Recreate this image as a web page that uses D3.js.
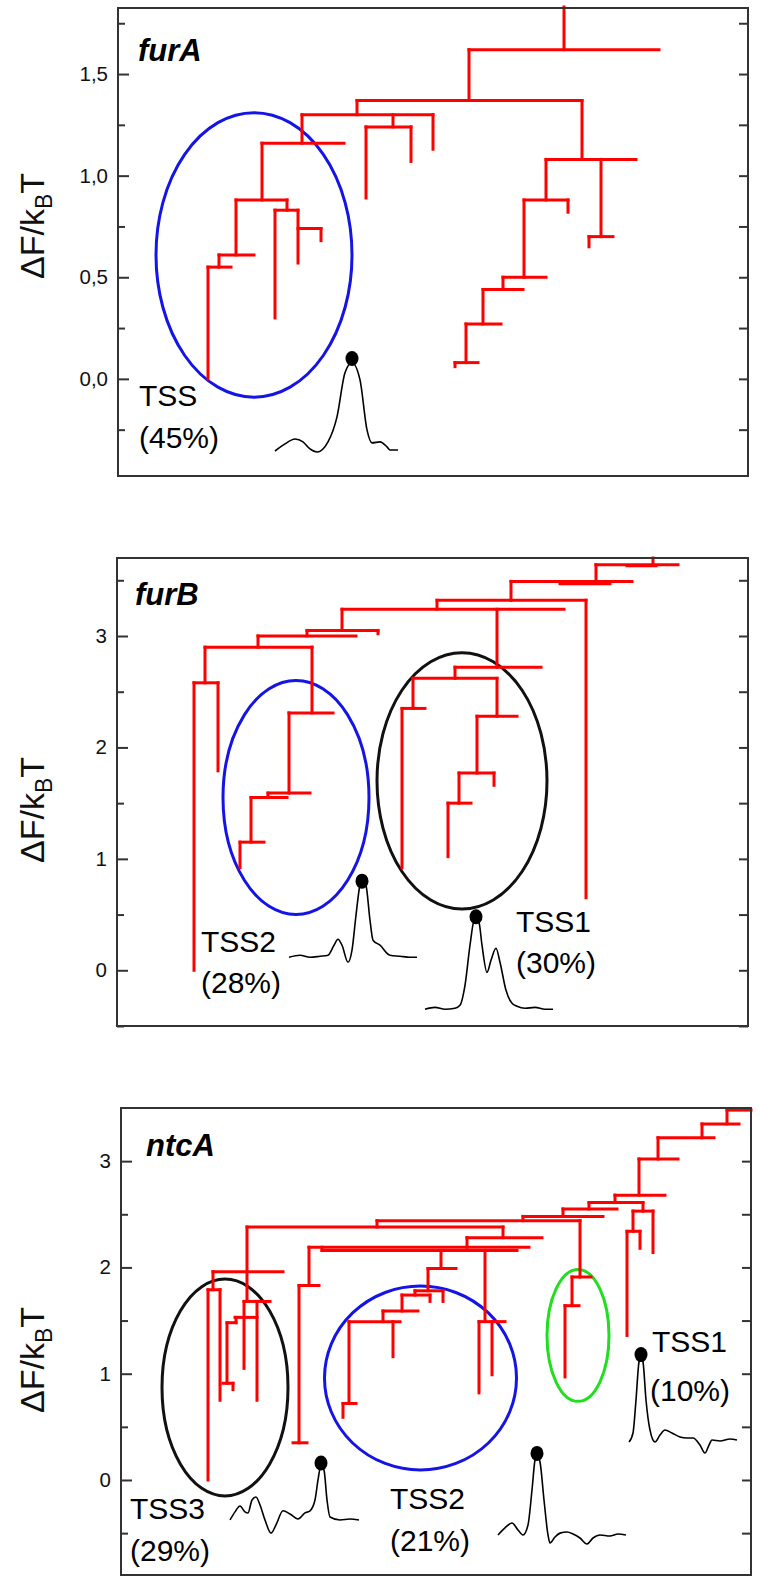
<!DOCTYPE html>
<html>
<head>
<meta charset="utf-8">
<script src="https://cdn.jsdelivr.net/npm/d3@7"></script>
<style>
  body { margin: 0; background: #fff; }
  svg { display: block; }
  text { font-family: Arial, "Liberation Sans", sans-serif; }
</style>
</head>
<body>
<svg width="760" height="1585"></svg>
<script>
// x: position along the tree (arbitrary units, 0 = left frame), y: dF/kBT
// horizontal bars [y, x1, x2], vertical stems [x, y1, y2]
const furA_h = [
  [1.62, 351, 541], [1.37, 239, 464], [1.30, 184, 315], [1.24, 248, 293],
  [1.16, 144, 226], [0.88, 118, 169], [0.83, 157, 180], [0.74, 180, 203],
  [0.61, 101, 136], [0.55, 90, 113], [1.08, 428, 518], [0.70, 471, 495],
  [0.88, 406, 450], [0.50, 385, 428], [0.44, 365, 405], [0.27, 348, 383],
  [0.08, 337, 360]
];
const furA_v = [
  [446, 1.83, 1.62], [351, 1.62, 1.37], [239, 1.37, 1.30], [275, 1.30, 1.24],
  [248, 1.24, 0.89], [293, 1.24, 1.07], [315, 1.30, 1.13], [184, 1.30, 1.16],
  [144, 1.16, 0.88], [169, 0.88, 0.83], [157, 0.83, 0.30], [180, 0.83, 0.57],
  [203, 0.74, 0.68], [118, 0.88, 0.61], [101, 0.61, 0.55], [90, 0.55, 0.0],
  [464, 1.37, 1.08], [483, 1.08, 0.70], [471, 0.70, 0.65], [428, 1.08, 0.88],
  [450, 0.88, 0.82], [406, 0.88, 0.50], [385, 0.50, 0.44], [365, 0.44, 0.27],
  [348, 0.27, 0.08], [337, 0.08, 0.06]
];
const furA_ell = [[136, 0.61, 98, 0.70, "#1414e6"]];
const furA_tss = [
  [157, -0.355], [167, -0.32], [177, -0.296], [185, -0.31], [192, -0.345], [199, -0.36],
  [210, -0.31], [219, -0.187], [227, 0.03], [234, 0.079], [242, -0.005], [249, -0.251],
  [254, -0.315], [262, -0.31], [269, -0.335], [272, -0.35], [280, -0.35]
];
const furA_dots = [[234, 0.10]];

const furB_h = [
  [3.64, 479, 561], [3.63, 510, 539], [3.49, 394, 515], [3.47, 443, 493],
  [3.32, 320, 469], [3.24, 225, 447], [3.05, 190, 261], [3.00, 141, 239],
  [2.90, 88, 195], [2.58, 77, 101], [2.31, 172, 216], [1.59, 151, 193],
  [1.55, 134, 170], [1.15, 123, 147], [2.72, 338, 424], [2.62, 296, 380],
  [2.35, 285, 308], [2.28, 360, 400], [1.77, 342, 377], [1.50, 331, 354]
];
const furB_v = [
  [536, 3.70, 3.64], [479, 3.64, 3.49], [394, 3.49, 3.32], [469, 3.32, 0.65],
  [320, 3.32, 3.24], [225, 3.24, 3.05], [261, 3.05, 3.02], [190, 3.05, 3.00],
  [141, 3.00, 2.90], [88, 2.90, 2.58], [77, 2.58, 0.0], [101, 2.58, 1.79],
  [195, 2.90, 2.31], [172, 2.31, 1.59], [151, 1.59, 1.55], [134, 1.55, 1.15],
  [123, 1.15, 0.92], [380, 3.24, 2.72], [338, 2.72, 2.62], [296, 2.62, 2.35],
  [285, 2.35, 0.92], [380, 2.62, 2.28], [360, 2.28, 1.77], [377, 1.77, 1.66],
  [342, 1.77, 1.50], [331, 1.50, 1.02]
];
const furB_ell = [[179, 1.55, 73, 1.05, "#1414e6"], [345, 1.70, 85, 1.15, "#111"]];
const furB_tss2 = [
  [172, 0.117], [183, 0.135], [193, 0.117], [203, 0.126], [211, 0.135], [217, 0.225],
  [221, 0.279], [225, 0.225], [231, 0.072], [235, 0.18], [239, 0.494], [243, 0.764],
  [246, 0.809], [249, 0.764], [253, 0.449], [256, 0.27], [263, 0.225], [273, 0.135],
  [283, 0.126], [293, 0.117], [300, 0.117]
];
const furB_tss1 = [
  [308, -0.35], [318, -0.333], [328, -0.35], [338, -0.341], [343, -0.314], [348, -0.135],
  [353, 0.225], [357, 0.449], [359, 0.467], [362, 0.431], [365, 0.225], [370, -0.018],
  [374, 0.09], [379, 0.198], [383, 0.072], [389, -0.18], [395, -0.296], [400, -0.323],
  [408, -0.341], [418, -0.333], [428, -0.35], [436, -0.35]
];
const furB_dots = [[245, 0.80], [359, 0.48]];

const ntcA_h = [
  [3.48, 606, 630], [3.35, 581, 618], [3.22, 537, 593], [3.02, 518, 557],
  [2.68, 494, 544], [2.61, 468, 522], [2.53, 512, 532], [2.34, 506, 519],
  [2.55, 442, 496], [2.48, 402, 482], [2.44, 256, 459], [2.38, 126, 382],
  [1.91, 451, 470], [1.64, 444, 458], [2.28, 346, 421], [2.19, 188, 408],
  [2.16, 201, 396], [1.83, 178, 198], [0.35, 172, 186], [1.49, 358, 384],
  [1.99, 307, 335], [1.78, 294, 322], [1.74, 281, 309], [1.59, 262, 297],
  [1.49, 228, 279], [0.72, 222, 235], [1.96, 92, 162], [1.79, 87, 99],
  [1.68, 123, 149], [1.53, 114, 136], [1.48, 106, 115], [0.91, 102, 112]
];
const ntcA_v = [
  [606, 3.48, 3.35], [581, 3.35, 3.22], [537, 3.22, 3.02], [518, 3.02, 2.68],
  [494, 2.68, 2.61], [522, 2.61, 2.53], [532, 2.53, 2.14], [512, 2.53, 2.34],
  [519, 2.34, 2.18], [506, 2.34, 1.36], [468, 2.61, 2.55], [442, 2.55, 2.48],
  [402, 2.48, 2.44], [459, 2.44, 1.91], [451, 1.91, 1.64], [444, 1.64, 0.97],
  [256, 2.44, 2.38], [382, 2.38, 2.28], [346, 2.28, 2.19], [201, 2.19, 2.16],
  [188, 2.19, 1.83], [178, 1.83, 0.35], [364, 2.16, 1.49], [358, 1.49, 0.82],
  [371, 1.49, 0.99], [320, 2.16, 1.99], [307, 1.99, 1.78], [322, 1.78, 1.68],
  [294, 1.78, 1.74], [309, 1.74, 1.68], [281, 1.74, 1.59], [262, 1.59, 1.49],
  [228, 1.49, 0.72], [222, 0.72, 0.59], [272, 1.49, 1.16], [126, 2.38, 1.68],
  [123, 1.68, 1.05], [136, 1.68, 0.75], [92, 1.96, 1.79], [87, 1.79, 0.0],
  [99, 1.79, 0.75], [115, 1.53, 1.48], [106, 1.48, 0.91], [112, 0.91, 0.85]
];
const ntcA_ell = [[104, 0.87, 63, 1.02, "#111"], [299.5, 0.96, 96, 0.865, "#1414e6"], [457, 1.36, 31, 0.62, "#22dd22"]];
const ntcA_tss3 = [
  [109, -0.376], [114, -0.30], [119, -0.245], [124, -0.30], [127, -0.31], [131, -0.188],
  [135, -0.16], [139, -0.235], [144, -0.376], [150, -0.50], [155, -0.423], [162, -0.29],
  [169, -0.32], [177, -0.367], [184, -0.31], [189, -0.29], [194, -0.188], [197, 0.0],
  [200, 0.141], [203, 0.094], [206, -0.188], [209, -0.348], [219, -0.376], [229, -0.367],
  [238, -0.376]
];
const ntcA_tss2 = [
  [377, -0.517], [384, -0.45], [391, -0.405], [397, -0.47], [402, -0.517], [407, -0.423],
  [411, -0.094], [414, 0.188], [416, 0.235], [419, 0.169], [423, -0.188], [427, -0.517],
  [429, -0.593], [434, -0.536], [439, -0.50], [446, -0.489], [452, -0.508], [459, -0.546],
  [466, -0.602], [472, -0.546], [479, -0.517], [489, -0.527], [497, -0.508], [505, -0.517]
];
const ntcA_tss1 = [
  [508, 0.357], [512, 0.442], [515, 0.753], [518, 1.11], [520, 1.157], [522, 1.11],
  [525, 0.753], [529, 0.47], [534, 0.357], [539, 0.423], [544, 0.47], [551, 0.442],
  [559, 0.405], [566, 0.395], [572, 0.395], [579, 0.329], [584, 0.254], [588, 0.329],
  [591, 0.376], [599, 0.367], [609, 0.386], [616, 0.376]
];
const ntcA_dots = [[200, 0.16], [416, 0.25], [520, 1.18]];

const furA_ticks = [0, 0.5, 1, 1.5], furA_minor = [-0.25, 0.25, 0.75, 1.25, 1.75];
const int_ticks = [0, 1, 2, 3], furB_minor = [-0.5, 0.5, 1.5, 2.5, 3.5], ntcA_minor = [-0.5, 0.5, 1.5, 2.5];

const panels = [
  { title: "furA", h: furA_h, v: furA_v, ell: furA_ell, traces: [furA_tss], dots: furA_dots,
    box: [118, 8, 748, 476], yDom: [-0.478, 1.825], major: furA_ticks, minor: furA_minor,
    fmt: d => d.toFixed(1).replace(".", ","), labelY: 226,
    notes: [["furA", 20, 53, true], ["TSS", 21, 398], ["(45%)", 21, 440]] },
  { title: "furB", h: furB_h, v: furB_v, ell: furB_ell, traces: [furB_tss2, furB_tss1], dots: furB_dots,
    box: [117, 558, 748, 1026], yDom: [-0.50, 3.70], major: int_ticks, minor: furB_minor,
    fmt: d3.format("d"), labelY: 810,
    notes: [["furB", 18, 47, true], ["TSS2", 84, 394], ["(28%)", 84, 435], ["TSS1", 399, 374], ["(30%)", 399, 415]] },
  { title: "ntcA", h: ntcA_h, v: ntcA_v, ell: ntcA_ell, traces: [ntcA_tss3, ntcA_tss2, ntcA_tss1], dots: ntcA_dots,
    box: [121, 1108, 751, 1575], yDom: [-0.894, 3.50], major: int_ticks, minor: ntcA_minor,
    fmt: d3.format("d"), labelY: 1360,
    notes: [["ntcA", 25, 48, true], ["TSS3", 9, 411], ["(29%)", 9, 453], ["TSS2", 269, 401], ["(21%)", 269, 443],
            ["TSS1", 531, 244], ["(10%)", 529, 293]] }
];

const svg = d3.select("svg");

panels.forEach(p => {
  const [x0, y0, x1, y1] = p.box;
  const x = d3.scaleLinear().domain([0, x1 - x0]).range([x0, x1]);
  const y = d3.scaleLinear().domain(p.yDom).range([y1, y0]);
  const g = svg.append("g");

  // ellipses
  g.selectAll(".ell").data(p.ell).enter().append("ellipse")
    .attr("cx", d => x(d[0])).attr("cy", d => y(d[1]))
    .attr("rx", d => x(d[0] + d[2]) - x(d[0]))
    .attr("ry", d => y(d[1] - d[3]) - y(d[1]))
    .attr("fill", "none").attr("stroke", d => d[4]).attr("stroke-width", 3);

  // tree
  g.selectAll(".hb").data(p.h).enter().append("line")
    .attr("x1", d => x(d[1])).attr("x2", d => x(d[2]))
    .attr("y1", d => y(d[0])).attr("y2", d => y(d[0]))
    .attr("stroke", "#ff0000").attr("stroke-width", 3).attr("stroke-linecap", "square");
  g.selectAll(".vs").data(p.v).enter().append("line")
    .attr("x1", d => x(d[0])).attr("x2", d => x(d[0]))
    .attr("y1", d => y(d[1])).attr("y2", d => y(d[2]))
    .attr("stroke", "#ff0000").attr("stroke-width", 3).attr("stroke-linecap", "square");

  // profiles
  const line = d3.line().x(d => x(d[0])).y(d => y(d[1])).curve(d3.curveMonotoneX);
  g.selectAll(".tr").data(p.traces).enter().append("path")
    .attr("d", line).attr("fill", "none").attr("stroke", "#000").attr("stroke-width", 1.6);
  g.selectAll(".dot").data(p.dots).enter().append("ellipse")
    .attr("cx", d => x(d[0])).attr("cy", d => y(d[1])).attr("rx", 6.5).attr("ry", 7.5).attr("fill", "#000");

  // frame and ticks
  g.append("rect").attr("x", x0).attr("y", y0).attr("width", x1 - x0).attr("height", y1 - y0)
    .attr("fill", "none").attr("stroke", "#333").attr("stroke-width", 2);

  const left = g.append("g").attr("transform", `translate(${x0},0)`)
    .call(d3.axisLeft(y).tickValues(p.major).tickSize(-11).tickPadding(10).tickFormat(p.fmt));
  const leftMinor = g.append("g").attr("transform", `translate(${x0},0)`)
    .call(d3.axisLeft(y).tickValues(p.minor).tickSize(-7).tickFormat(""));
  const right = g.append("g").attr("transform", `translate(${x1},0)`)
    .call(d3.axisRight(y).tickValues(p.major.concat(p.minor)).tickSize(-9).tickFormat(""));
  [left, leftMinor, right].forEach(a => {
    a.select(".domain").remove();
    a.selectAll("line").attr("stroke", "#333").attr("stroke-width", 2);
    a.selectAll("text").attr("font-size", 20.5).attr("fill", "#111")
      .attr("font-family", "Arial, 'Liberation Sans', sans-serif");
  });

  // y label
  const lab = g.append("text")
    .attr("transform", `translate(44,${p.labelY}) rotate(-90)`)
    .attr("text-anchor", "middle").attr("font-size", 34).attr("fill", "#111");
  lab.append("tspan").text("ΔF/k");
  lab.append("tspan").attr("font-size", 23).attr("dy", 8).text("B");
  lab.append("tspan").attr("dy", -8).text("T");

  // annotations
  g.selectAll(".note").data(p.notes).enter().append("text")
    .attr("x", d => x0 + d[1]).attr("y", d => y0 + d[2])
    .attr("font-size", d => d[3] ? 31 : 30)
    .attr("font-weight", d => d[3] ? "bold" : "normal")
    .attr("font-style", d => d[3] ? "italic" : "normal")
    .attr("fill", "#000")
    .text(d => d[0]);
});
</script>
</body>
</html>
